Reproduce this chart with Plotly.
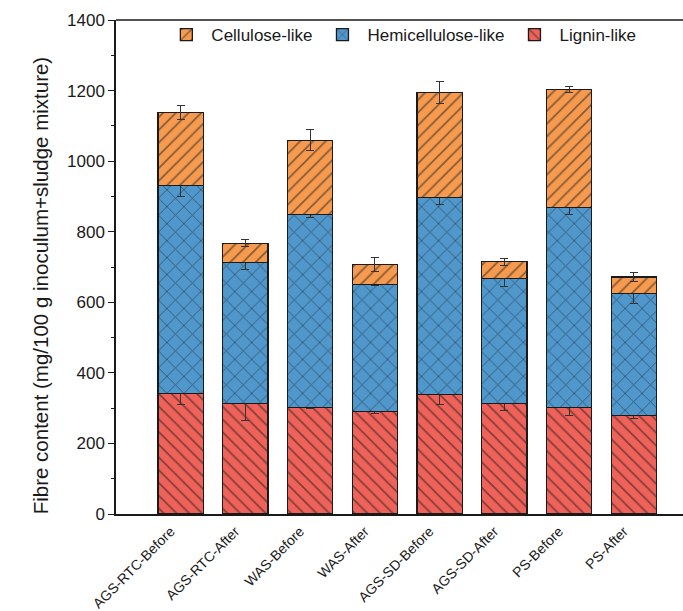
import plotly.graph_objects as go

# Samples (x-axis categories)
samples = ["AGS-RTC-Before", "AGS-RTC-After", "WAS-Before", "WAS-After",
           "AGS-SD-Before", "AGS-SD-After", "PS-Before", "PS-After"]

# Fibre fractions, mg/100 g inoculum+sludge mixture (stacked)
lignin = [342, 314, 301, 290, 338, 314, 301, 280]
hemicellulose = [588, 398, 548, 360, 559, 353, 568, 345]
cellulose = [207, 55, 210, 57, 298, 48, 334, 47]

# Standard deviations for each fraction
lignin_sd = [31, 50, 3, 5, 29, 20, 21, 9]
hemicellulose_sd = [29, 20, 10, 3, 20, 22, 20, 29]
cellulose_sd = [20, 10, 30, 20, 31, 10, 9, 13]

# name, values, sd, fill colour, hatch shape, hatch tile size, hatch solidity
series = [
    ("Lignin-like", lignin, lignin_sd, "#EE6259", "\\", 9, 0.18),
    ("Hemicellulose-like", hemicellulose, hemicellulose_sd, "#5097CC", "x", 12, 0.14),
    ("Cellulose-like", cellulose, cellulose_sd, "#F59A4F", "/", 9, 0.18),
]

fig = go.Figure()
for name, vals, sd, color, shape, psize, psol in series:
    fig.add_trace(go.Bar(
        name=name,
        x=samples,
        y=vals,
        width=0.7,
        marker=dict(
            color=color,
            line=dict(color="#1a1a1a", width=1.3),
            pattern=dict(shape=shape, fgcolor="#151515", size=psize, solidity=psol),
        ),
        error_y=dict(type="data", array=sd, visible=True,
                     color="#333333", thickness=1, width=4),
    ))

font_family = "Liberation Sans, Arial, sans-serif"

fig.update_layout(
    width=683,
    height=611,
    barmode="stack",
    plot_bgcolor="white",
    paper_bgcolor="white",
    margin=dict(l=116, r=0, t=20, b=97),
    font=dict(family=font_family, color="#1a1a1a"),
    showlegend=True,
    legend=dict(
        orientation="h",
        traceorder="reversed",
        x=0.08, y=1.006,
        xanchor="left", yanchor="top",
        font=dict(size=17, family=font_family),
        bgcolor="rgba(255,255,255,0)",
        itemwidth=40,
    ),
    xaxis=dict(
        range=[-1, 7.76],
        automargin=False,
        tickangle=-45,
        tickfont=dict(size=14),
        ticklabelshift=-10,
        ticklabelstandoff=2,
        showline=True,
        linecolor="#1a1a1a",
        linewidth=1.5,
        ticks="",
        showgrid=False,
        zeroline=False,
    ),
    yaxis=dict(
        range=[0, 1400],
        automargin=False,
        tickvals=[0, 200, 400, 600, 800, 1000, 1200, 1400],
        tickfont=dict(size=17),
        ticks="outside",
        ticklen=6,
        tickwidth=1.2,
        tickcolor="#1a1a1a",
        minor=dict(dtick=100, ticks="outside", ticklen=3, tickcolor="#1a1a1a"),
        showline=True,
        linecolor="#1a1a1a",
        linewidth=1.5,
        showgrid=False,
        zeroline=False,
    ),
    annotations=[dict(
        text="Fibre content (mg/100 g inoculum+sludge mixture)",
        xref="paper", yref="paper",
        x=-0.134, y=0.463,
        xanchor="center", yanchor="middle",
        textangle=-90, showarrow=False,
        font=dict(size=20.5),
    )],
    shapes=[dict(type="line", xref="paper", yref="paper",
                 x0=0, x1=1, y0=1, y1=1,
                 line=dict(color="#1a1a1a", width=1.5))],
)

fig.write_html("out.html")
